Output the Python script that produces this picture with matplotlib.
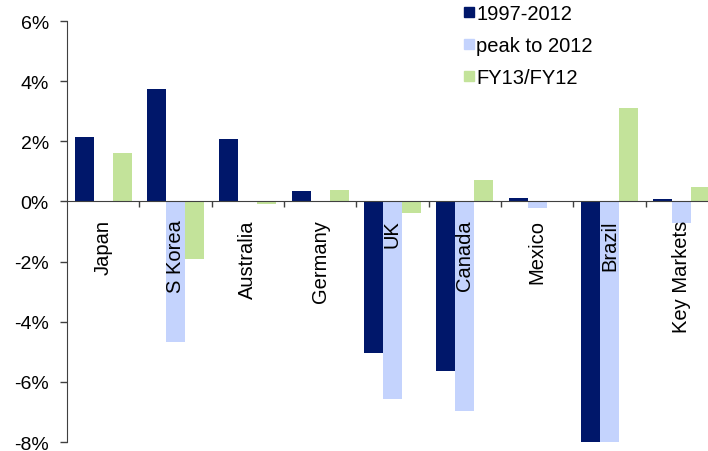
import numpy as np
import matplotlib.pyplot as plt
from matplotlib.ticker import FuncFormatter, FixedLocator

plt.rcParams['font.family'] = ['Liberation Sans', 'DejaVu Sans']

countries = ['Japan', 'S Korea', 'Australia', 'Germany', 'UK', 'Canada',
             'Mexico', 'Brazil', 'Key Markets']
series_names = ['1997-2012', 'peak to 2012', 'FY13/FY12']
long_run = [2.13, 3.73, 2.07, 0.34, -5.04, -5.64, 0.12, -8.1, 0.07]
peak_to_2012 = [0.0, -4.68, 0.0, 0.0, -6.56, -6.98, -0.23, -8.1, -0.71]
fy13_fy12 = [1.6, -1.93, -0.1, 0.38, -0.37, 0.7, 0.02, 3.1, 0.49]

colors = ['#00176A', '#C4D3FD', '#C3E39A']

fig = plt.figure(figsize=(7.08, 4.52), dpi=100)
ax = fig.add_axes((0.0946, 0.0199, 0.9195, 0.9314))
ax.set_axisbelow(False)

x = np.arange(len(countries))
w = 0.263
for i, (vals, c, name) in enumerate(zip([long_run, peak_to_2012, fy13_fy12], colors, series_names)):
    ax.bar(x + (i - 1) * w, vals, width=w, color=c, label=name, zorder=1)

ax.set_xlim(-0.5, len(countries) - 0.5)
ax.set_ylim(-8, 6)
ax.set_yticks(np.arange(-8, 7, 2))
ax.yaxis.set_major_formatter(FuncFormatter(lambda v, p: f'{v:.0f}%'))
ax.tick_params(axis='y', labelsize=14, length=5, width=1, color='#404040', pad=8)

# horizontal axis sits on zero, labels hang below it
ax.spines['bottom'].set_position(('data', 0))
ax.spines['bottom'].set_color('#404040')
ax.spines['left'].set_color('#404040')
ax.spines['top'].set_visible(False)
ax.spines['right'].set_visible(False)
ax.set_xticks(x)
ax.set_xticklabels(countries, rotation=90, fontsize=14.5, va='top')
ax.tick_params(axis='x', length=0, pad=13)
ax.xaxis.set_minor_locator(FixedLocator(np.arange(0.5, len(countries) - 1, 1)))
ax.tick_params(axis='x', which='minor', length=4, width=1, color='#404040', direction='out')

handles = [plt.Line2D([], [], marker='s', linestyle='', markersize=6.5, color=c) for c in colors]
fig.legend(handles, series_names, loc='upper left', bbox_to_anchor=(0.622, 1.03),
           frameon=False, fontsize=14.5, handletextpad=-0.12, labelspacing=0.66,
           handlelength=1.0)

fig.savefig('out.png', dpi=100)
